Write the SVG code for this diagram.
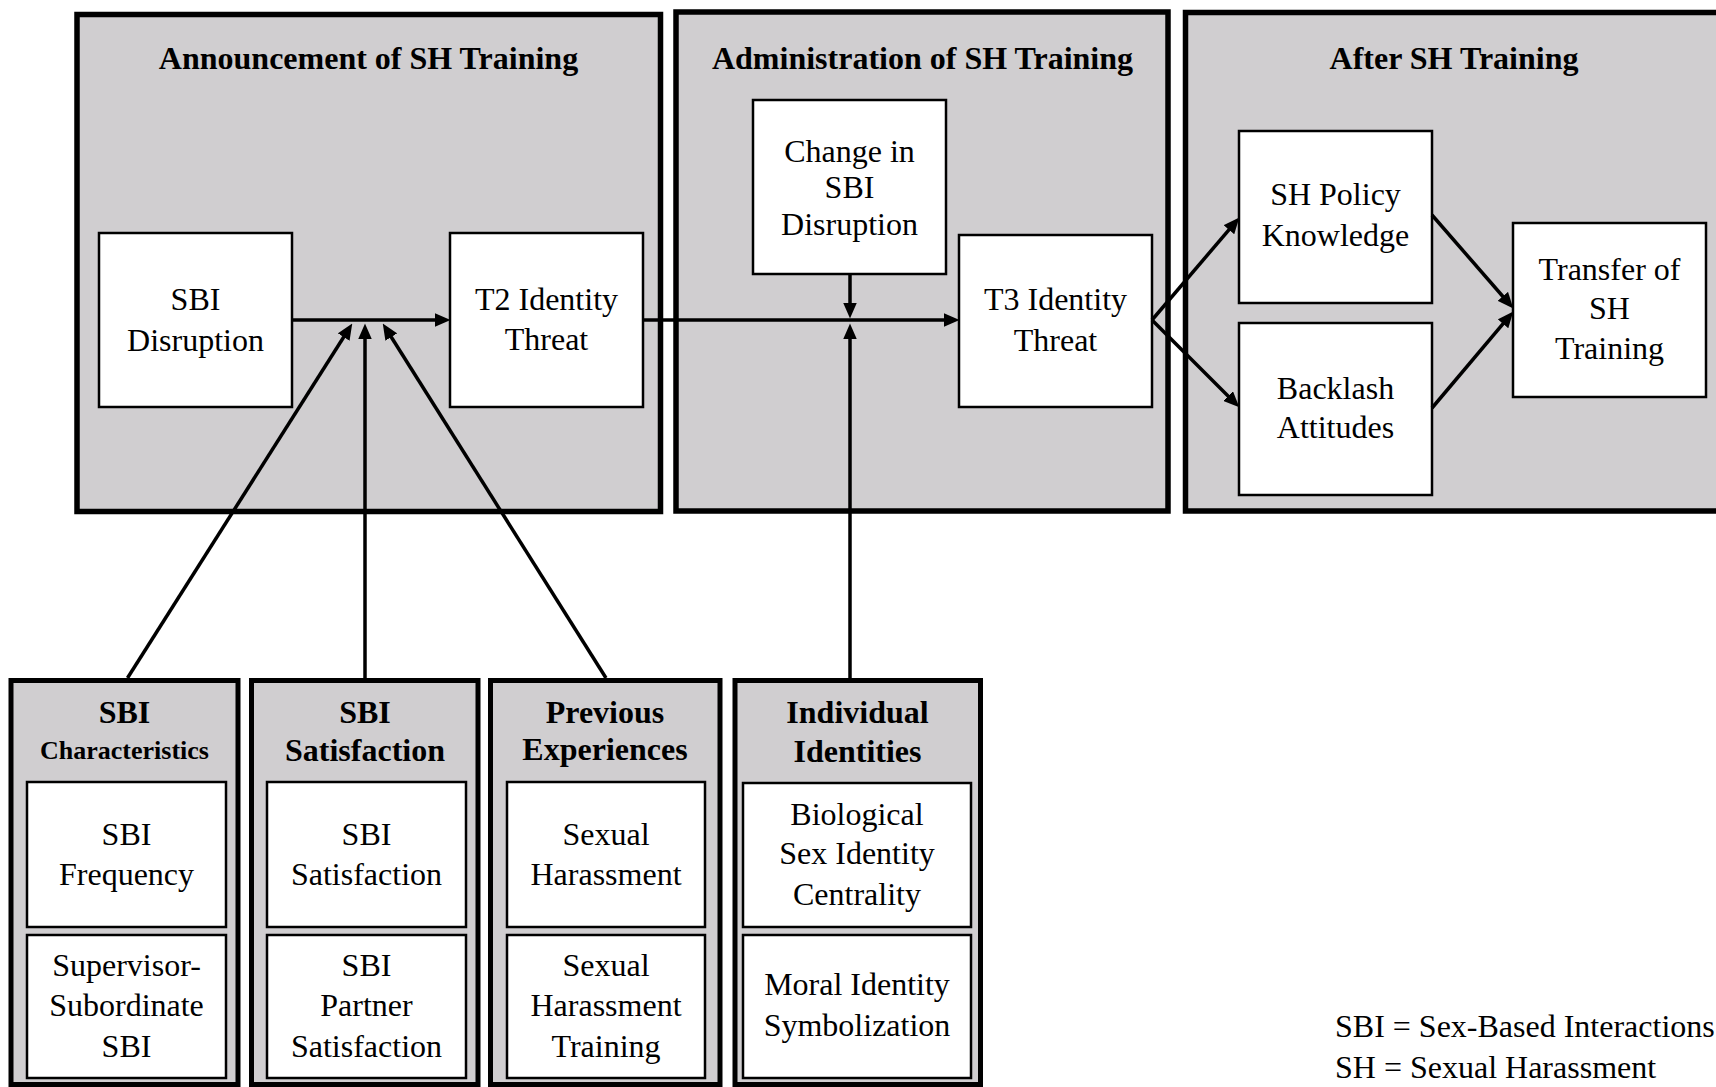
<svg xmlns="http://www.w3.org/2000/svg" width="1716" height="1087" viewBox="0 0 1716 1087">
<defs>
<style>
.phase{fill:#d0ced0;stroke:#000;stroke-width:5.5}
.group{fill:#d0ced0;stroke:#000;stroke-width:5}
.node{fill:#fff;stroke:#000;stroke-width:2.5}
.t{font-family:"Liberation Serif","Times New Roman",serif;font-size:32px;fill:#000;text-anchor:middle}
.b{font-weight:bold}
.sm{font-size:26px}
.leg{font-family:"Liberation Serif","Times New Roman",serif;font-size:32px;fill:#000}
.c{stroke:#000;stroke-width:3.5;fill:none;marker-end:url(#ah)}
</style>
<marker id="ah" markerUnits="userSpaceOnUse" markerWidth="16" markerHeight="14" viewBox="0 0 15 13" refX="7" refY="6.5" orient="auto">
<path d="M0,0 L15,6.5 L0,13 z" fill="#000"/>
</marker>
</defs>
<rect width="1716" height="1087" fill="#fff"/>

<g id="phase-announcement">
<rect class="phase" x="77" y="14.5" width="583.5" height="497"/>
<text class="t b" x="368.5" y="69">Announcement of SH Training</text>
</g>
<g id="phase-administration">
<rect class="phase" x="676" y="12" width="492" height="499"/>
<text class="t b" x="922.5" y="69">Administration of SH Training</text>
</g>
<g id="phase-after">
<rect class="phase" x="1185.5" y="12.5" width="545" height="498.5"/>
<text class="t b" x="1454" y="69">After SH Training</text>
</g>

<g id="sbi-disruption">
<rect class="node" x="99" y="233" width="193" height="174"/>
<text class="t"><tspan x="195.5" y="310">SBI</tspan><tspan x="195.5" y="351">Disruption</tspan></text>
</g>
<g id="t2-identity-threat">
<rect class="node" x="450" y="233" width="193" height="174"/>
<text class="t"><tspan x="546.5" y="310">T2 Identity</tspan><tspan x="546.5" y="350">Threat</tspan></text>
</g>
<g id="change-sbi-disruption">
<rect class="node" x="753" y="100" width="193" height="174"/>
<text class="t"><tspan x="849.5" y="162">Change in</tspan><tspan x="849.5" y="198">SBI</tspan><tspan x="849.5" y="235">Disruption</tspan></text>
</g>
<g id="t3-identity-threat">
<rect class="node" x="959" y="235" width="193" height="172"/>
<text class="t"><tspan x="1055.5" y="310">T3 Identity</tspan><tspan x="1055.5" y="351">Threat</tspan></text>
</g>
<g id="sh-policy-knowledge">
<rect class="node" x="1239" y="131" width="193" height="172"/>
<text class="t"><tspan x="1335.5" y="205">SH Policy</tspan><tspan x="1335.5" y="246">Knowledge</tspan></text>
</g>
<g id="backlash-attitudes">
<rect class="node" x="1239" y="323" width="193" height="172"/>
<text class="t"><tspan x="1335.5" y="399">Backlash</tspan><tspan x="1335.5" y="438">Attitudes</tspan></text>
</g>
<g id="transfer-sh-training">
<rect class="node" x="1513" y="223" width="193" height="174"/>
<text class="t"><tspan x="1609.5" y="280">Transfer of</tspan><tspan x="1609.5" y="319">SH</tspan><tspan x="1609.5" y="359">Training</tspan></text>
</g>

<g id="sbi-characteristics">
<rect class="group" x="11" y="680.5" width="227" height="404"/>
<text class="t b" x="124.5" y="723">SBI</text>
<text class="t b sm" x="124.5" y="759">Characteristics</text>
</g>
<g id="sbi-frequency">
<rect class="node" x="27" y="782" width="199" height="145"/>
<text class="t"><tspan x="126.5" y="845">SBI</tspan><tspan x="126.5" y="885">Frequency</tspan></text>
</g>
<g id="supervisor-subordinate-sbi">
<rect class="node" x="27" y="935" width="199" height="143"/>
<text class="t"><tspan x="126.5" y="976">Supervisor-</tspan><tspan x="126.5" y="1016">Subordinate</tspan><tspan x="126.5" y="1057">SBI</tspan></text>
</g>

<g id="sbi-satisfaction-group">
<rect class="group" x="251.5" y="680.5" width="226.5" height="404"/>
<text class="t b" x="365" y="723">SBI</text>
<text class="t b" x="365" y="761">Satisfaction</text>
</g>
<g id="sbi-satisfaction">
<rect class="node" x="267" y="782" width="199" height="145"/>
<text class="t"><tspan x="366.5" y="845">SBI</tspan><tspan x="366.5" y="885">Satisfaction</tspan></text>
</g>
<g id="sbi-partner-satisfaction">
<rect class="node" x="267" y="935" width="199" height="143"/>
<text class="t"><tspan x="366.5" y="976">SBI</tspan><tspan x="366.5" y="1016">Partner</tspan><tspan x="366.5" y="1057">Satisfaction</tspan></text>
</g>

<g id="previous-experiences">
<rect class="group" x="490.5" y="680.5" width="229.5" height="404"/>
<text class="t b" x="605" y="723">Previous</text>
<text class="t b" x="605" y="760">Experiences</text>
</g>
<g id="sexual-harassment">
<rect class="node" x="507" y="782" width="198" height="145"/>
<text class="t"><tspan x="606" y="845">Sexual</tspan><tspan x="606" y="885">Harassment</tspan></text>
</g>
<g id="sexual-harassment-training">
<rect class="node" x="507" y="935" width="198" height="143"/>
<text class="t"><tspan x="606" y="976">Sexual</tspan><tspan x="606" y="1016">Harassment</tspan><tspan x="606" y="1057">Training</tspan></text>
</g>

<g id="individual-identities">
<rect class="group" x="735" y="680.5" width="245.5" height="404"/>
<text class="t b" x="857.5" y="723">Individual</text>
<text class="t b" x="857.5" y="762">Identities</text>
</g>
<g id="biological-sex-identity-centrality">
<rect class="node" x="743" y="783" width="228" height="144"/>
<text class="t"><tspan x="857" y="825">Biological</tspan><tspan x="857" y="864">Sex Identity</tspan><tspan x="857" y="905">Centrality</tspan></text>
</g>
<g id="moral-identity-symbolization">
<rect class="node" x="743" y="935" width="228" height="143"/>
<text class="t"><tspan x="857" y="995">Moral Identity</tspan><tspan x="857" y="1036">Symbolization</tspan></text>
</g>

<g id="connectors">
<line class="c" x1="292" y1="320" x2="442" y2="320"/>
<line class="c" x1="643" y1="320" x2="951" y2="320"/>
<line class="c" x1="850" y1="274" x2="850" y2="310"/>
<line class="c" x1="850" y1="680" x2="850" y2="332"/>
<line class="c" x1="127.5" y1="678" x2="347.7" y2="330.8"/>
<line class="c" x1="365" y1="678" x2="365" y2="332"/>
<line class="c" x1="606" y1="678" x2="387.3" y2="330.8"/>
<line class="c" x1="1152" y1="320" x2="1233.8" y2="224.1"/>
<line class="c" x1="1152" y1="320" x2="1233.3" y2="401.3"/>
<line class="c" x1="1432" y1="215" x2="1507.7" y2="302"/>
<line class="c" x1="1432" y1="408" x2="1507.8" y2="318.1"/>
</g>

<g id="legend">
<text class="leg" x="1335" y="1037">SBI = Sex-Based Interactions</text>
<text class="leg" x="1335" y="1078">SH = Sexual Harassment</text>
</g>
</svg>
